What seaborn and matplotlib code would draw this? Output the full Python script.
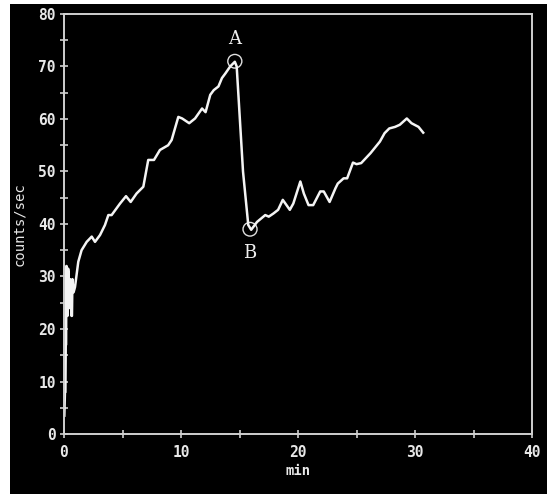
import matplotlib
matplotlib.use("Agg")
import matplotlib.pyplot as plt
import seaborn as sns
import pandas as pd
from matplotlib.ticker import MultipleLocator
from matplotlib.patches import Ellipse, Rectangle

minutes = [0.03, 0.08, 0.12, 0.15, 0.18, 0.2, 0.22, 0.28, 0.3, 0.35, 0.38, 0.42, 0.47, 0.52,
           0.58, 0.64, 0.68, 0.72, 0.78, 0.82, 0.88, 0.94, 1.22, 1.5, 1.94, 2.37, 2.65, 3.08,
           3.5, 3.79, 4.07, 4.79, 5.3, 5.7, 6.2, 6.78, 7.2, 7.69, 8.2, 8.9, 9.2, 9.77, 10.1,
           10.7, 11.2, 11.8, 12.1, 12.5, 12.8, 13.2, 13.5, 13.8, 14.2, 14.6, 14.76, 15.3,
           15.75, 16.0, 16.5, 17.2, 17.5, 17.9, 18.3, 18.7, 19.3, 19.6, 20.2, 20.5, 20.9,
           21.3, 21.9, 22.2, 22.7, 23.2, 23.4, 23.9, 24.2, 24.7, 25.0, 25.4, 26.2, 27.0,
           27.4, 27.8, 28.3, 28.7, 29.3, 29.7, 30.3, 30.7]
counts = [3.5, 8.0, 8.0, 17.0, 17.0, 32.0, 32.0, 22.5, 22.5, 31.5, 31.0, 24.0, 24.0, 29.5,
          29.0, 22.5, 22.5, 29.5, 27.5, 27.0, 27.5, 28.0, 32.8, 35.0, 36.6, 37.6, 36.6, 37.9,
          39.8, 41.7, 41.7, 43.9, 45.3, 44.2, 45.8, 47.1, 52.2, 52.2, 54.1, 55.0, 56.0, 60.4,
          60.1, 59.2, 60.1, 62.0, 61.3, 64.6, 65.5, 66.2, 67.8, 68.7, 70.0, 70.9, 70.0, 50.0,
          39.8, 38.9, 40.4, 41.7, 41.4, 42.0, 42.7, 44.6, 42.7, 43.9, 48.1, 45.8, 43.6,
          43.6, 46.2, 46.2, 44.2, 46.8, 47.7, 48.7, 48.7, 51.7, 51.4, 51.6, 53.5, 55.7,
          57.3, 58.2, 58.5, 58.9, 60.1, 59.2, 58.5, 57.4]

point_labels = ["A", "B"]
point_x = [14.6, 15.9]
point_y = [71.0, 39.0]

df = pd.DataFrame({"min": minutes, "counts/sec": counts})

fig = plt.figure(figsize=(5.47, 4.94), dpi=100, facecolor="white")
fig.patches.append(Rectangle((10 / 547, 0), 1 - 10 / 547, 1 - 4 / 494,
                             transform=fig.transFigure, facecolor="black",
                             edgecolor="none", zorder=-10))
ax = fig.add_axes([64 / 547, 60 / 494, 468 / 547, 420 / 494])
ax.set_facecolor("black")

sns.lineplot(data=df, x="min", y="counts/sec", sort=False, estimator=None,
             color="#f4f4f4", linewidth=1.8, ax=ax)

ax.set_xlim(0, 40)
ax.set_ylim(0, 80)
ax.xaxis.set_major_locator(MultipleLocator(10))
ax.xaxis.set_minor_locator(MultipleLocator(5))
ax.yaxis.set_major_locator(MultipleLocator(10))
ax.yaxis.set_minor_locator(MultipleLocator(5))

mono = {"family": "DejaVu Sans Mono", "weight": "bold", "size": 10}
for lab in ax.get_xticklabels() + ax.get_yticklabels():
    lab.set_fontfamily("DejaVu Sans Mono")
    lab.set_fontweight("bold")
    lab.set_fontsize(10.5)
    lab.set_color("#e8e8e8")
ax.tick_params(which="both", direction="inout", length=6, width=1.2, color="#cfcfcf")
ax.tick_params(axis="x", which="major", pad=5)
ax.tick_params(axis="y", which="major", pad=3)
for s in ax.spines.values():
    s.set_color("#cfcfcf")
    s.set_linewidth(1.4)

ax.set_xlabel("min", fontdict=mono, color="#e8e8e8", labelpad=3)
ax.set_ylabel("counts/sec", family="DejaVu Sans Mono", size=10, color="#e8e8e8", labelpad=9)

for lab, px, py in zip(point_labels, point_x, point_y):
    ax.add_patch(Ellipse((px, py), width=1.2, height=2.6, fill=False,
                         edgecolor="#e0e0e0", linewidth=1.0))
    off = 4.3 if lab == "A" else -4.5
    ax.text(px, py + off, lab, ha="center", va="center", color="#f0f0f0",
            family="DejaVu Serif", size=13)

fig.savefig("out.png", dpi=100, facecolor=fig.get_facecolor())
